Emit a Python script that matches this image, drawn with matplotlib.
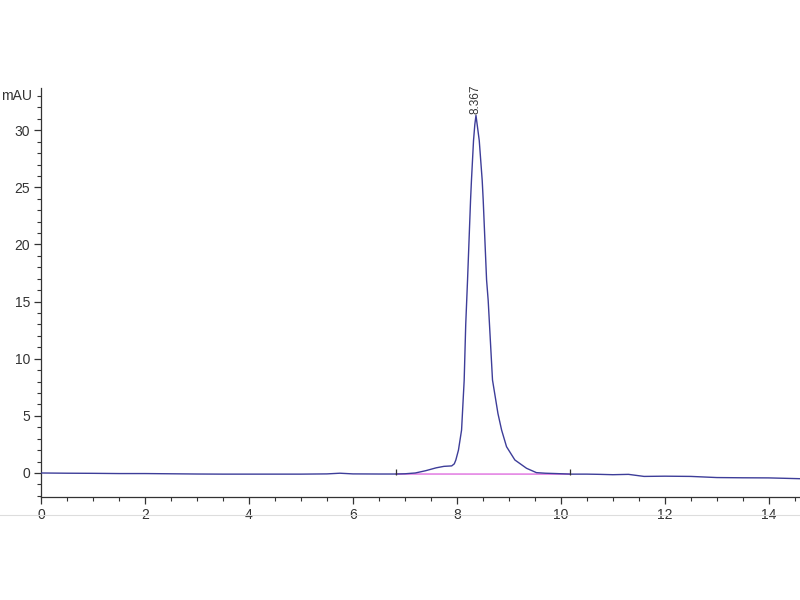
import matplotlib.pyplot as plt
from matplotlib.lines import Line2D
from matplotlib.ticker import MultipleLocator

# retention time (min) and absorbance (mAU)
time = [0.0, 0.5, 1.0, 1.5, 2.0, 2.5, 3.0, 3.5, 4.0, 4.5, 5.0, 5.5, 5.75, 6.0,
        6.5, 6.83, 7.0, 7.2, 7.4, 7.6, 7.75, 7.9, 7.95, 7.98, 8.03, 8.09, 8.14,
        8.17, 8.205, 8.263, 8.28, 8.32, 8.345, 8.367, 8.39, 8.43, 8.487, 8.506,
        8.571, 8.602, 8.685, 8.79, 8.86, 8.955, 9.115, 9.34, 9.53, 9.7, 9.9,
        10.2, 10.5, 10.75, 11.0, 11.3, 11.6, 12.0, 12.5, 13.0, 13.5, 14.0, 14.6]
signal = [0.0, -0.02, -0.03, -0.05, -0.05, -0.07, -0.09, -0.1, -0.1, -0.1, -0.1,
          -0.08, -0.02, -0.08, -0.09, -0.09, -0.07, 0.0, 0.2, 0.45, 0.58, 0.62, 0.8,
          1.14, 2.0, 3.76, 8.1, 13.0, 16.9, 23.9, 25.6, 29.1, 30.5, 31.3, 30.5, 29.1,
          25.6, 23.9, 16.9, 15.1, 8.14, 5.2, 3.76, 2.3, 1.14, 0.41, 0.03, -0.02,
          -0.05, -0.1, -0.1, -0.12, -0.15, -0.12, -0.3, -0.28, -0.3, -0.4, -0.42,
          -0.43, -0.5]

# integration baseline of the peak
base_t = [6.83, 10.17]
base_y = [-0.09, -0.1]
peak_t = 8.367
peak_y = 31.3

fig = plt.figure(figsize=(8, 6), dpi=100)
plt.rcParams['font.family'] = ['Liberation Sans', 'DejaVu Sans']
ax = fig.add_axes([0.05125, 0.1717, 0.94875, 0.6817])

ax.plot(base_t, base_y, color='#e486e4', lw=1.2, zorder=2)
ax.plot(time, signal, color='#3d3d99', lw=1.0, zorder=3)
ax.plot(base_t, [b + 0.18 for b in base_y], '|', color='#333333', ms=4, mew=0.9, zorder=4)
ax.text(peak_t, peak_y + 0.1, '%.3f' % peak_t, rotation=90, ha='center', va='bottom',
        fontsize=8.5, color='#333333')

ax.set_xlim(0, 14.6)
ax.set_ylim(-2.1, 33.7)
ax.xaxis.set_major_locator(MultipleLocator(2))
ax.xaxis.set_minor_locator(MultipleLocator(0.5))
ax.yaxis.set_major_locator(MultipleLocator(5))
ax.yaxis.set_minor_locator(MultipleLocator(1))
ax.tick_params(which='major', length=5, width=0.9, colors='#333333', labelsize=10, pad=3)
ax.tick_params(which='minor', length=3, width=0.8, colors='#333333')
for s in ['top', 'right']:
    ax.spines[s].set_visible(False)
for s in ['left', 'bottom']:
    ax.spines[s].set_color('#333333')
    ax.spines[s].set_linewidth(0.9)

ax.text(-0.012, 33.0, 'mAU', transform=ax.get_yaxis_transform(), ha='right', va='center',
        fontsize=10, color='#333333')

fig.add_artist(Line2D([0, 1], [0.1417, 0.1417], color='#dddddd', lw=0.8))

fig.savefig('out.png', dpi=100)
